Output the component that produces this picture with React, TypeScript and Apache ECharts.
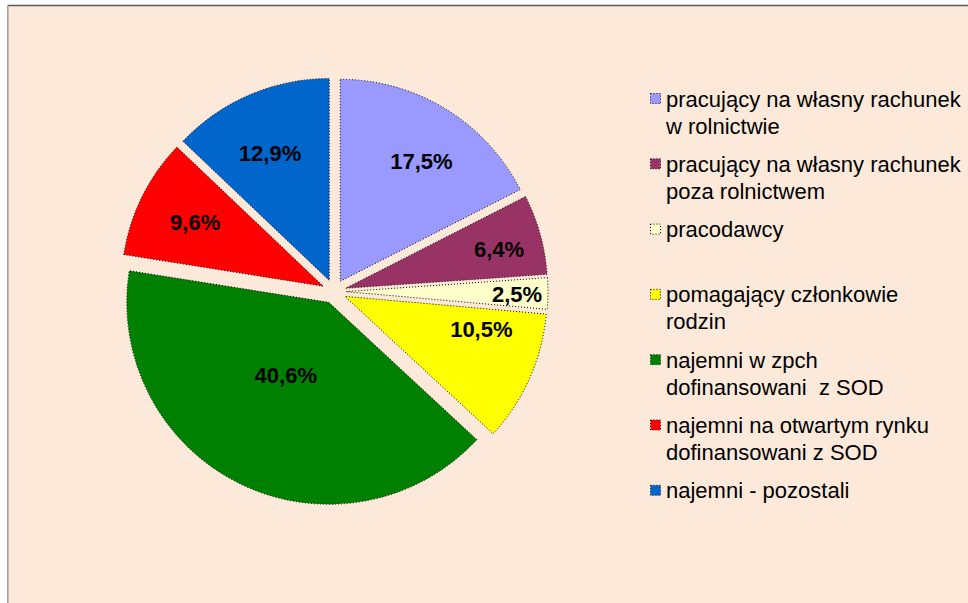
import React, { useEffect, useRef } from "react";
import * as echarts from "echarts";

// ---- data ----
const categories = [
  "pracujący na własny rachunek\nw rolnictwie",
  "pracujący na własny rachunek\npoza rolnictwem",
  "pracodawcy",
  "pomagający członkowie\nrodzin",
  "najemni w zpch\ndofinansowani  z SOD",
  "najemni na otwartym rynku\ndofinansowani z SOD",
  "najemni - pozostali",
];
const values = [17.5, 6.4, 2.5, 10.5, 40.6, 9.6, 12.9];
const colors = ["#9999FF", "#993366", "#FFFFCC", "#FFFF00", "#008000", "#FF0000", "#0066CC"];

// ---- layout / style ----
const CENTER = [334, 291.5];
const RADIUS = 202;
const OFFSET = 12;
// label placement (radius fraction, angle clockwise from 12 o'clock, degrees)
const LABEL_R = [0.776, 0.843, 0.906, 0.753, 0.479, 0.768, 0.752];
const LABEL_A = [33.9, 75.8, 90.9, 104.4, 209.9, 296.5, 335.1];
const FONT = "'Liberation Sans', Arial, sans-serif";
const BG = "#FDE9D9";
const LEGEND_X = 650;
const LEGEND_Y0 = 99;
const LEGEND_STEP = 65.3;
const LEGEND_LINE = 27;

const fmt = (v: number) => v.toFixed(1).replace(".", ",") + "%";

export default function App() {
  const ref = useRef<HTMLDivElement>(null);
  useEffect(() => {
    if (!ref.current) return;
    const chart = echarts.init(ref.current, undefined, { renderer: "svg" });
    const border = { borderColor: "#000", borderWidth: 1, borderType: [1, 2] as any };

    const legendEls: any[] = [];
    categories.forEach((name, i) => {
      const cy = LEGEND_Y0 + i * LEGEND_STEP;
      legendEls.push({
        type: "rect",
        shape: { x: LEGEND_X + 0.5, y: cy - 5.5, width: 10, height: 10 },
        style: { fill: colors[i], stroke: "#000", lineWidth: 1, lineDash: [1, 2] },
      });
      legendEls.push({
        type: "text",
        x: LEGEND_X + 16,
        y: cy - LEGEND_LINE / 2,
        style: {
          text: name,
          fontSize: 22,
          fontFamily: FONT,
          fill: "#000",
          lineHeight: LEGEND_LINE,
          verticalAlign: "top",
          align: "left",
        },
      });
    });

    chart.setOption({
      animation: false,
      backgroundColor: "#fff",
      graphic: {
        elements: [
          { type: "rect", z: -10, shape: { x: 8, y: 6, width: 1000, height: 700 }, style: { fill: BG } },
          { type: "line", z: -9, shape: { x1: 7.8, y1: 5.5, x2: 968, y2: 5.5 }, style: { stroke: "#5f5a58", lineWidth: 1.6 } },
          { type: "line", z: -9, shape: { x1: 7.8, y1: 5.5, x2: 7.8, y2: 603 }, style: { stroke: "#a3a09e", lineWidth: 1.6 } },
          ...legendEls,
        ],
      },
      series: [
        {
          type: "pie",
          center: CENTER,
          radius: [0, RADIUS],
          startAngle: 90,
          clockwise: true,
          selectedMode: "multiple",
          selectedOffset: OFFSET,
          avoidLabelOverlap: false,
          itemStyle: { ...border },
          select: { itemStyle: { ...border } },
          emphasis: { disabled: true },
          label: {
            show: true,
            position: "inside",
            formatter: (p: any) => fmt(p.value),
            fontSize: 22,
            fontWeight: "bold",
            fontFamily: FONT,
            color: "#000",
          },
          labelLine: { show: false },
          labelLayout: (params: any) => {
            const i = params.dataIndex;
            const r = params.labelRect;
            const lx = r.x + r.width / 2;
            const ly = r.y + r.height / 2;
            // default label sits on the slice bisector; the selected offset is applied afterwards
            const vx = lx - CENTER[0];
            const vy = ly - CENTER[1];
            const len = Math.hypot(vx, vy) || 1;
            const a = (LABEL_A[i] * Math.PI) / 180;
            const tx = CENTER[0] + LABEL_R[i] * RADIUS * Math.sin(a) - (vx / len) * OFFSET;
            const ty = CENTER[1] - LABEL_R[i] * RADIUS * Math.cos(a) - (vy / len) * OFFSET;
            return { dx: tx - lx, dy: ty - ly };
          },
          data: categories.map((name, i) => ({
            name,
            value: values[i],
            selected: true,
            itemStyle: { color: colors[i] },
          })),
        },
      ],
    });
    return () => chart.dispose();
  }, []);
  return (
    <div
      ref={ref}
      style={{ position: "fixed", left: 0, top: 0, width: 968, height: 603 }}
    />
  );
}
